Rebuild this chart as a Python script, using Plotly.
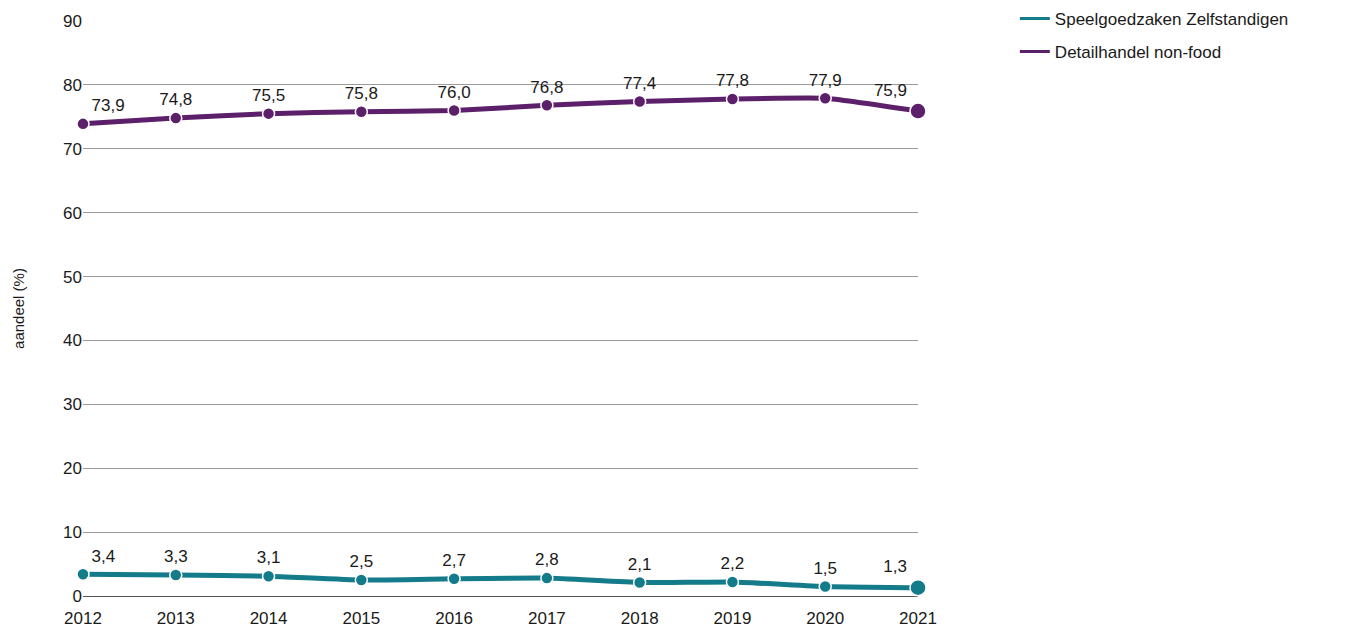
import plotly.graph_objects as go

years = [2012, 2013, 2014, 2015, 2016, 2017, 2018, 2019, 2020, 2021]
speelgoed = [3.4, 3.3, 3.1, 2.5, 2.7, 2.8, 2.1, 2.2, 1.5, 1.3]
nonfood = [73.9, 74.8, 75.5, 75.8, 76.0, 76.8, 77.4, 77.8, 77.9, 75.9]
y_ticks = [0, 10, 20, 30, 40, 50, 60, 70, 80, 90]

teal = '#137b89'
purple = '#5c1f6a'


def labels(vals):
    return [f'{v:.1f}'.replace('.', ',') for v in vals]


def positions(n):
    return ['top right'] + ['top center'] * (n - 2) + ['top left']


def sizes(n):
    return [12] * (n - 1) + [16]


data = []
for name, vals, color in [('Speelgoedzaken Zelfstandigen', speelgoed, teal),
                          ('Detailhandel non-food', nonfood, purple)]:
    trace = go.Scatter(x=years, y=vals,
                       mode='lines+markers+text',
                       name=name,
                       showlegend=False,
                       line=dict(color=color, width=5, shape='spline', smoothing=0.4),
                       marker=dict(color=color, size=sizes(len(vals)), opacity=1,
                                   line=dict(color='white', width=1.5)),
                       text=labels(vals),
                       textposition=positions(len(vals)),
                       textfont=dict(size=17, color='#1a1a1a'),
                       cliponaxis=False)
    data.append(trace)
    # legend entry shows only the line
    data.append(go.Scatter(x=[None], y=[None], mode='lines', name=name,
                           legendgroup=name,
                           line=dict(color=color, width=3)))

layout = go.Layout(
    width=1372, height=634,
    margin=dict(l=75, r=462, t=13, b=46, autoexpand=False),
    paper_bgcolor='white', plot_bgcolor='white',
    font=dict(family='Liberation Sans, Arial, sans-serif', color='#1a1a1a'),
    xaxis=dict(range=[2012, 2021], tickvals=years, showgrid=False,
               ticks='', tickfont=dict(size=17), zeroline=False,
               showline=False, automargin=False, ticklabelstandoff=10),
    yaxis=dict(range=[0, 90], tickvals=y_ticks, showgrid=True,
               gridcolor='#9a9a9a', gridwidth=1, zeroline=True,
               zerolinecolor='#555', zerolinewidth=1,
               tickfont=dict(size=17), ticks='', automargin=False,
               title=dict(text='aandeel (%)', font=dict(size=15), standoff=34)),
    legend=dict(x=1.116, y=1.035, xanchor='left', yanchor='top',
                font=dict(size=17), tracegroupgap=8, itemwidth=30),
    showlegend=True,
)

fig = go.Figure(data=data, layout=layout)
fig.write_html('out.html')
